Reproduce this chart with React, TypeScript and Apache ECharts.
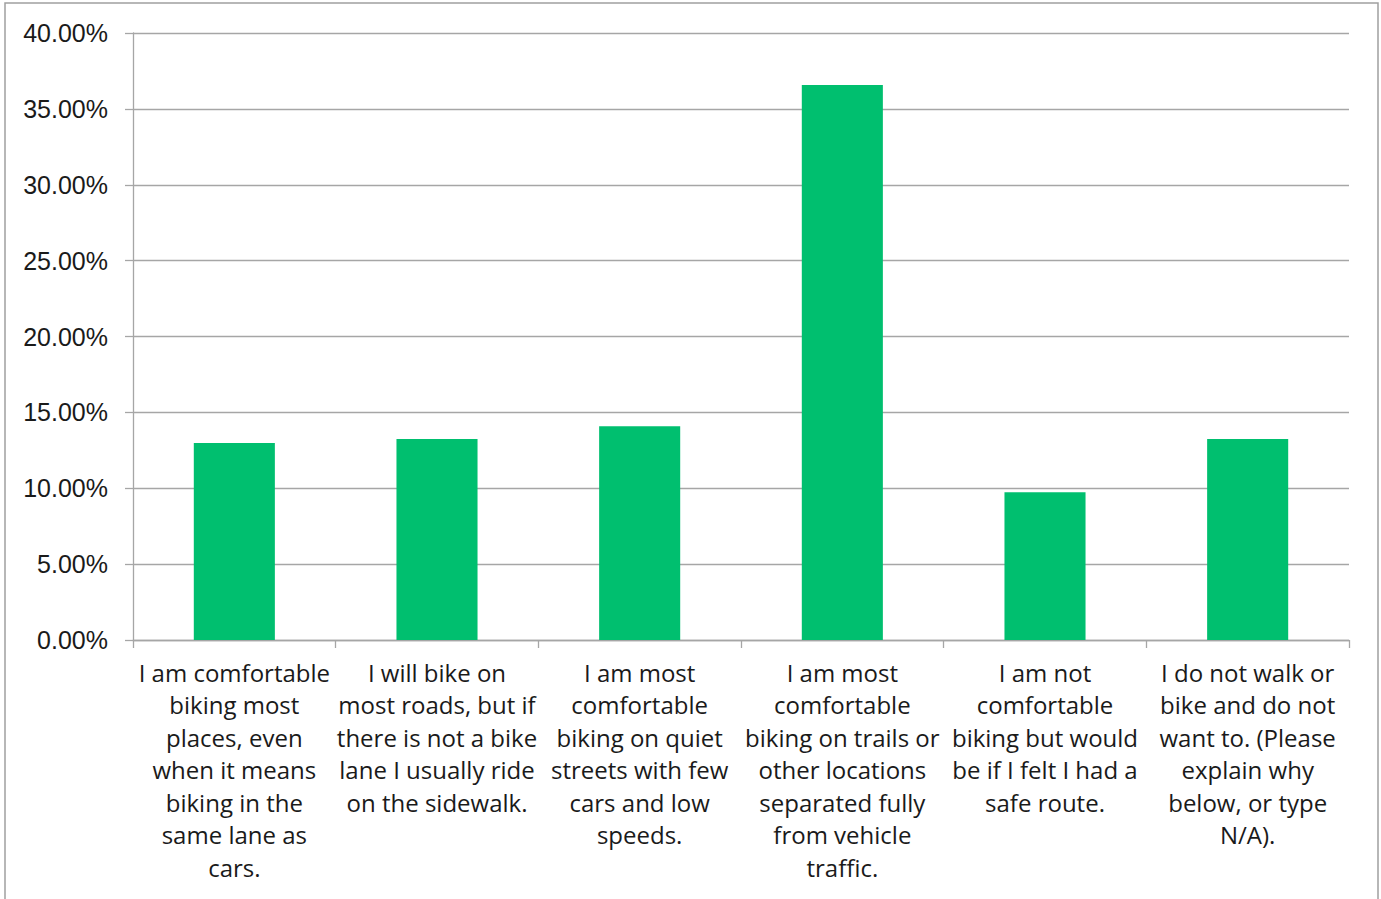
import React, { useEffect, useRef } from "react";
import * as echarts from "echarts";

// Survey answers (x axis) with their hand-placed line breaks
const categories: string[] = [
  "I am comfortable\nbiking most\nplaces, even\nwhen it means\nbiking in the\nsame lane as\ncars.",
  "I will bike on\nmost roads, but if\nthere is not a bike\nlane I usually ride\non the sidewalk.",
  "I am most\ncomfortable\nbiking on quiet\nstreets with few\ncars and low\nspeeds.",
  "I am most\ncomfortable\nbiking on trails or\nother locations\nseparated fully\nfrom vehicle\ntraffic.",
  "I am not\ncomfortable\nbiking but would\nbe if I felt I had a\nsafe route.",
  "I do not walk or\nbike and do not\nwant to. (Please\nexplain why\nbelow, or type\nN/A).",
];

// Share of respondents for each answer
const shares: number[] = [0.1298, 0.1325, 0.1408, 0.3657, 0.0973, 0.1325];

// Value axis range
const yMin = 0;
const yMax = 0.4;
const yStep = 0.05;

export default function App() {
  const ref = useRef<HTMLDivElement>(null);

  useEffect(() => {
    if (!ref.current) return;
    const chart = echarts.init(ref.current, null, { renderer: "svg" });
    const gray = "#a6a6a6";
    chart.setOption({
      animation: false,
      backgroundColor: "#ffffff",
      graphic: [
        {
          type: "rect",
          shape: { x: 5, y: 3, width: 1373, height: 920 },
          style: { fill: "none", stroke: "#a0a0a0", lineWidth: 1.5 },
          silent: true,
        },
      ],
      grid: { left: 133, right: 32, top: 33, bottom: 259, containLabel: false },
      xAxis: {
        type: "category",
        data: categories,
        axisLine: { show: true, lineStyle: { color: gray, width: 1.3 } },
        axisTick: { show: true, alignWithLabel: false, length: 8, lineStyle: { color: gray, width: 1.3 } },
        axisLabel: {
          interval: 0,
          margin: 16,
          fontFamily: "'Open Sans', sans-serif",
          fontSize: 24,
          lineHeight: 32.5,
          color: "#1a1a1a",
          align: "center",
        },
        splitLine: { show: false },
      },
      yAxis: {
        type: "value",
        min: yMin,
        max: yMax,
        interval: yStep,
        axisLine: { show: true, lineStyle: { color: gray, width: 1.3 } },
        axisTick: { show: true, length: 8, lineStyle: { color: gray, width: 1.3 } },
        axisLabel: {
          margin: 25,
          fontFamily: "'Liberation Sans', Arial, sans-serif",
          fontSize: 25,
          color: "#1a1a1a",
          formatter: (v: number) => (v * 100).toFixed(2) + "%",
        },
        splitLine: { show: true, lineStyle: { color: gray, width: 1.3 } },
      },
      series: [
        {
          type: "bar",
          data: shares,
          barWidth: "40%",
          itemStyle: { color: "#00bf6f" },
        },
      ],
    });
    return () => chart.dispose();
  }, []);

  return (
    <div
      ref={ref}
      style={{ position: "fixed", left: 0, top: 0, width: 1381, height: 899 }}
    />
  );
}
